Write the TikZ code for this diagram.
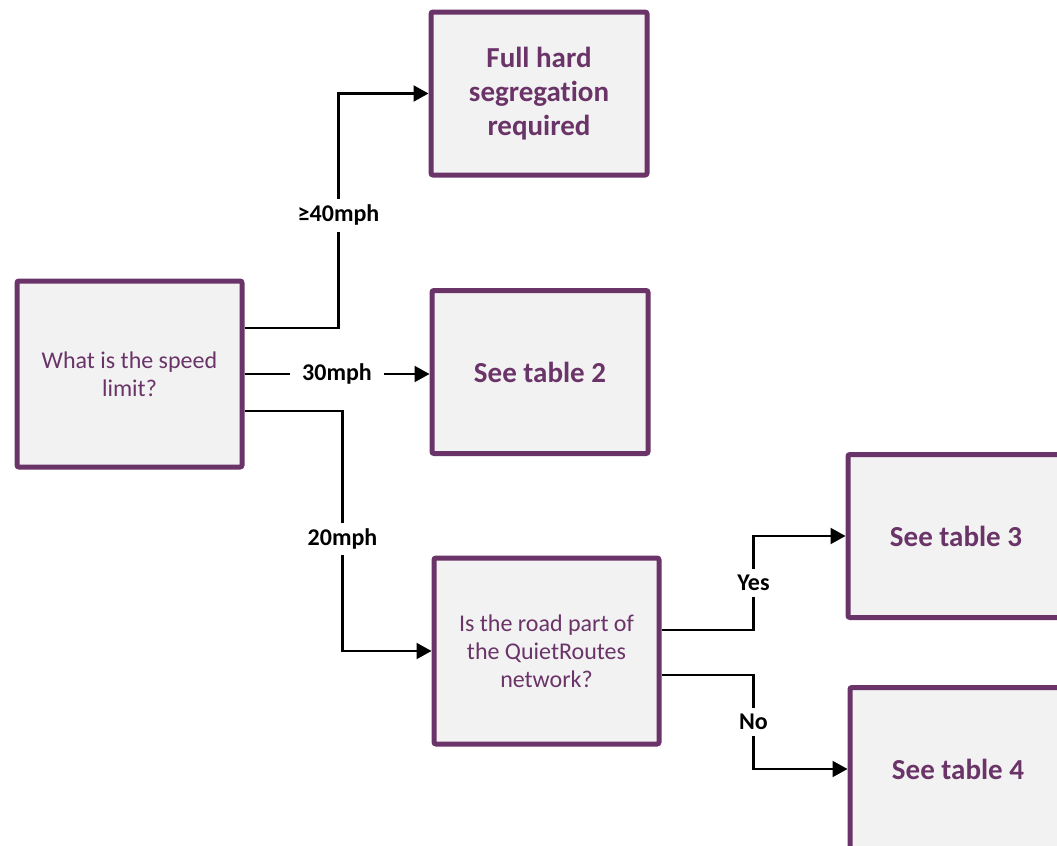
\documentclass[tikz,border=0pt]{standalone}
\usepackage{fontspec}
\setmainfont[Ligatures=NoCommon]{Carlito}
\usetikzlibrary{arrows.meta}
\definecolor{plum}{HTML}{6A3468}
\definecolor{boxgrey}{HTML}{F2F2F2}
\begin{document}
\begin{tikzpicture} [x=0.5pt,y=-0.5pt]
\tikzstyle{box}=[draw=plum,fill=boxgrey,line width=2.5pt,rounded corners=1pt,text=plum,align=center]
\tikzstyle{question}=[box,minimum width=112.5pt,minimum height=93pt,font=\fontsize{12}{14}\selectfont]
\tikzstyle{answer}=[box,minimum width=108pt,minimum height=81.5pt,font=\fontsize{14.5}{17}\selectfont\bfseries]
\tikzstyle{link}=[line width=1.1pt,-{Triangle[length=7.5pt,width=8pt]}]
\tikzstyle{lab}=[fill=white,inner sep=3pt,font=\fontsize{12}{14}\selectfont\bfseries]
\useasboundingbox (0,0) rectangle (1057,846);
\node[question] (speed) at (129.5,374) {What is the speed\\limit?};
\node[answer] (full) at (539,93.5) {Full hard\\segregation\\required};
\node[answer] (tab2) at (540,372) {See table 2};
\node[question] (quiet) at (546.5,651) {Is the road part of\\the QuietRoutes\\network?};
\node[answer] (tab3) at (956,536) {See table 3};
\node[answer] (tab4) at (958,769) {See table 4};
\draw[link] ([yshift=23pt]speed.east) -- ++(47pt,0) |- node[lab,pos=0.24] {≥40mph} (full.west);
\draw[link] (speed.east) -- node[lab,inner sep=6pt] {30mph} (speed.east -| tab2.west);
\draw[link] ([yshift=-18.5pt]speed.east) -- ++(49pt,0) |- node[lab,pos=0.267] {20mph} (quiet.west);
\draw[link] ([yshift=10.5pt]quiet.east) -- ++(46pt,0) |- node[lab,pos=0.25] {Yes} (tab3.west);
\draw[link] ([yshift=-12pt]quiet.east) -- ++(46pt,0) |- node[lab,pos=0.25] {No} (tab4.west);
\end{tikzpicture}
\end{document}
